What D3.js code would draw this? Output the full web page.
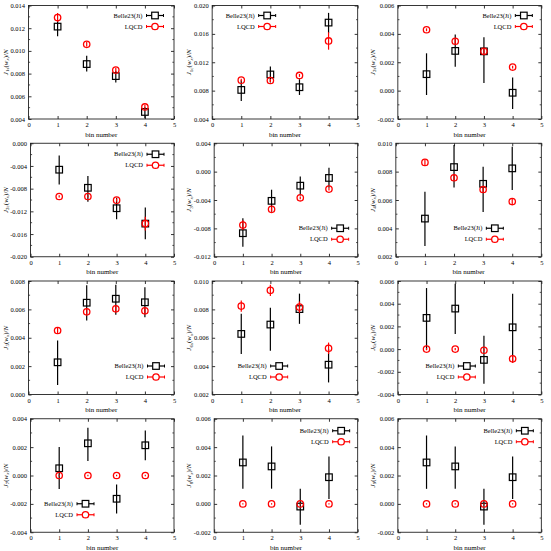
<!DOCTYPE html>
<html><head><meta charset="utf-8">
<script src="https://cdn.jsdelivr.net/npm/d3@7"></script>
<style>body{margin:0;background:#fff} svg{display:block}</style>
</head><body>
<svg id="c" width="551" height="551"></svg>
<script>
// ---------------- data ----------------
const bins = [1, 2, 3, 4];
const xTicks = [0, 1, 2, 3, 4, 5];
const seriesNames = ["Belle23(Ji)", "LQCD"];
const panelNames = ["1s", "1c", "2s", "2c", "3", "4", "5", "6s", "6c", "7", "8", "9"];
const yDomains = [
  [0.004, 0.014], [0.004, 0.020], [-0.002, 0.006],
  [-0.020, 0.000], [-0.012, 0.004], [0.002, 0.010],
  [0.000, 0.008], [0.002, 0.010], [-0.004, 0.006],
  [-0.004, 0.004], [-0.002, 0.006], [-0.002, 0.006]
];
const yTickSteps = [0.002, 0.004, 0.002, 0.004, 0.004, 0.002, 0.002, 0.002, 0.002, 0.002, 0.002, 0.002];

const belle = [
  [0.01214, 0.00884, 0.00778, 0.00462],
  [0.00810, 0.01028, 0.00848, 0.01759],
  [0.00116, 0.00280, 0.00277, -0.00015],
  [-0.00466, -0.00785, -0.01145, -0.01416],
  [-0.00868, -0.00412, -0.00198, -0.00089],
  [0.00469, 0.00832, 0.00714, 0.00823],
  [0.00227, 0.00647, 0.00675, 0.00650],
  [0.00627, 0.00693, 0.00802, 0.00410],
  [0.00275, 0.00357, -0.00095, 0.00192],
  [0.00051, 0.00227, -0.00164, 0.00213],
  [0.00292, 0.00264, -0.00019, 0.00188],
  [0.00292, 0.00264, -0.00019, 0.00188]
];
const belleUp = [
  [0.00056, 0.00074, 0.00047, 0.00041],
  [0.00137, 0.00113, 0.00113, 0.00137],
  [0.00147, 0.00116, 0.00100, 0.00107],
  [0.00248, 0.00206, 0.00183, 0.00283],
  [0.00209, 0.00157, 0.00128, 0.00142],
  [0.00189, 0.00156, 0.00120, 0.00153],
  [0.00153, 0.00123, 0.00099, 0.00106],
  [0.00142, 0.00118, 0.00109, 0.00111],
  [0.00263, 0.00219, 0.00213, 0.00296],
  [0.00150, 0.00110, 0.00101, 0.00105],
  [0.00190, 0.00141, 0.00125, 0.00146],
  [0.00190, 0.00141, 0.00125, 0.00146]
];
const belleDown = [
  [0.00086, 0.00065, 0.00056, 0.00056],
  [0.00156, 0.00113, 0.00109, 0.00146],
  [0.00147, 0.00112, 0.00223, 0.00114],
  [0.00260, 0.00248, 0.00195, 0.00277],
  [0.00190, 0.00152, 0.00138, 0.00140],
  [0.00194, 0.00144, 0.00198, 0.00153],
  [0.00160, 0.00125, 0.00113, 0.00106],
  [0.00142, 0.00184, 0.00104, 0.00125],
  [0.00281, 0.00225, 0.00210, 0.00311],
  [0.00147, 0.00124, 0.00103, 0.00105],
  [0.00186, 0.00157, 0.00129, 0.00153],
  [0.00186, 0.00157, 0.00129, 0.00153]
];
const lqcd = [
  [0.01294, 0.01058, 0.00831, 0.00506],
  [0.00948, 0.00943, 0.01014, 0.01500],
  [0.00429, 0.00348, 0.00277, 0.00166],
  [-0.00938, -0.00938, -0.01003, -0.01416],
  [-0.00754, -0.00531, -0.00369, -0.00246],
  [0.00865, 0.00757, 0.00674, 0.00589],
  [0.00451, 0.00583, 0.00604, 0.00590],
  [0.00823, 0.00934, 0.00816, 0.00526],
  [0.00000, 0.00000, -0.00010, -0.00086],
  [0.00000, 0.00000, 0.00000, 0.00000],
  [0.00000, 0.00000, 0.00000, 0.00000],
  [0.00000, 0.00000, 0.00000, 0.00000]
];
const lqcdErr = [
  [0.00040, 0.00020, 0.00020, 0.00020],
  [0.00020, 0.00020, 0.00020, 0.00123],
  [0.00010, 0.00020, 0.00020, 0.00010],
  [0.00020, 0.00020, 0.00030, 0.00120],
  [0.00070, 0.00030, 0.00020, 0.00020],
  [0.00020, 0.00020, 0.00020, 0.00020],
  [0.00020, 0.00020, 0.00020, 0.00020],
  [0.00040, 0.00040, 0.00040, 0.00040],
  [0.00010, 0.00010, 0.00010, 0.00035],
  [0.00005, 0.00005, 0.00005, 0.00005],
  [0.00005, 0.00005, 0.00005, 0.00005],
  [0.00005, 0.00005, 0.00005, 0.00005]
];

// ---------------- layout (styles / positions) ----------------
const W = 551, H = 551;
const legendPos = [[126.5,10],[55,10],[126,10],[125,11],[126,85],[99,85],[127.5,85],[67,85],[69,85],[55,85],[127,12],[127,12]];
const FONT = "'Liberation Serif', 'Times New Roman', serif";
const RED = "#ff0000";

const svg = d3.select("#c");
svg.append("rect").attr("width", W).attr("height", H).attr("fill", "#fff");

const fmt = d => d.toFixed(3);

panelNames.forEach((name, i) => {
  const row = Math.floor(i / 3), col = i % 3;
  const cellX = col * W / 3, cellY = row * H / 4;
  const dom = yDomains[i];
  const hasNeg = dom[0] < 0;
  const left = cellX + 28.5 + (hasNeg ? 2 : 0);
  const right = cellX + 174;
  const top = cellY + 5.5;
  const bottom = cellY + 119;

  const x = d3.scaleLinear().domain([0, 5]).range([left, right]);
  const y = d3.scaleLinear().domain(dom).range([bottom, top]);
  const step = yTickSteps[i];
  const k0 = Math.round(dom[0] / step), k1 = Math.round(dom[1] / step);
  const yTicks = d3.range(k0, k1 + 1).map(k => k * step);
  const yMinor = d3.range(k0, k1).map(k => (k + 0.5) * step);

  const g = svg.append("g");

  // axes
  const styleAxis = sel => {
    sel.select(".domain").remove();
    sel.selectAll("line").attr("stroke", "#000").attr("stroke-width", 0.8);
    sel.selectAll("text").attr("font-family", FONT).attr("font-size", 6.5).attr("fill", "#000");
  };
  g.append("g").attr("transform", `translate(${left},0)`)
    .call(d3.axisLeft(y).tickValues(yTicks).tickSize(-3).tickPadding(3.5).tickFormat(fmt))
    .call(styleAxis);
  g.append("g").attr("transform", `translate(${right},0)`)
    .call(d3.axisRight(y).tickValues(yTicks).tickSize(-3).tickFormat(""))
    .call(styleAxis);
  g.append("g").attr("transform", `translate(0,${bottom})`)
    .call(d3.axisBottom(x).tickValues(xTicks).tickSize(-3).tickPadding(3.5).tickFormat(d3.format("d")))
    .call(styleAxis);
  g.append("g").attr("transform", `translate(0,${top})`)
    .call(d3.axisTop(x).tickValues(xTicks).tickSize(-3).tickFormat(""))
    .call(styleAxis);
  // minor y ticks
  yMinor.forEach(v => {
    g.append("line").attr("x1", left).attr("x2", left + 1.6).attr("y1", y(v)).attr("y2", y(v))
      .attr("stroke", "#000").attr("stroke-width", 0.7);
    g.append("line").attr("x1", right).attr("x2", right - 1.6).attr("y1", y(v)).attr("y2", y(v))
      .attr("stroke", "#000").attr("stroke-width", 0.7);
  });

  // frame
  g.append("rect").attr("x", left).attr("y", top).attr("width", right - left).attr("height", bottom - top)
    .attr("fill", "none").attr("stroke", "#222").attr("stroke-width", 0.9);

  // x label
  g.append("text").attr("x", (left + right) / 2).attr("y", bottom + 17.5)
    .attr("text-anchor", "middle").attr("font-family", FONT).attr("font-size", 7)
    .text("bin number");

  // y label
  const yl = g.append("text")
    .attr("transform", `translate(${cellX + 7.5},${(top + bottom) / 2}) rotate(-90)`)
    .attr("text-anchor", "middle").attr("font-family", FONT).attr("font-size", 7);
  yl.append("tspan").attr("font-style", "italic").text("J");
  yl.append("tspan").attr("font-size", 5).attr("dy", 1.5).text(name);
  yl.append("tspan").attr("dy", -1.5).text("(");
  yl.append("tspan").attr("font-style", "italic").text("w");
  yl.append("tspan").attr("font-size", 5).attr("dy", 1.5).attr("font-style", "italic").text("x");
  yl.append("tspan").attr("dy", -1.5).text(")/");
  yl.append("tspan").attr("font-style", "italic").text("N");

  // Belle data
  const bd = bins.map((b, j) => ({b, v: belle[i][j], up: belleUp[i][j], dn: belleDown[i][j]}));
  const bg = g.append("g");
  bg.selectAll("line.err").data(bd).join("line")
    .attr("x1", d => x(d.b)).attr("x2", d => x(d.b))
    .attr("y1", d => y(d.v + d.up)).attr("y2", d => y(d.v - d.dn))
    .attr("stroke", "#000").attr("stroke-width", 1.2);
  bg.selectAll("rect.pt").data(bd).join("rect")
    .attr("x", d => x(d.b) - 3.3).attr("y", d => y(d.v) - 3.3)
    .attr("width", 6.6).attr("height", 6.6)
    .attr("fill", "none").attr("stroke", "#000").attr("stroke-width", 1.2);

  // LQCD data
  const ld = bins.map((b, j) => ({b, v: lqcd[i][j], e: lqcdErr[i][j]}));
  const lg = g.append("g");
  lg.selectAll("line.err").data(ld).join("line")
    .attr("x1", d => x(d.b)).attr("x2", d => x(d.b))
    .attr("y1", d => y(d.v + d.e)).attr("y2", d => y(d.v - d.e))
    .attr("stroke", RED).attr("stroke-width", 1.2);
  lg.selectAll("circle.pt").data(ld).join("circle")
    .attr("cx", d => x(d.b)).attr("cy", d => y(d.v)).attr("r", 3.2)
    .attr("fill", "none").attr("stroke", RED).attr("stroke-width", 1.3);

  // legend
  const [lx, ly] = legendPos[i];
  seriesNames.forEach((s, j) => {
    const mx = left + lx, my = top + ly + j * 11;
    const color = j === 0 ? "#000" : RED;
    g.append("text").attr("x", mx - 12.5).attr("y", my).attr("dy", "0.33em")
      .attr("text-anchor", "end").attr("font-family", FONT).attr("font-size", 6.5).text(s);
    g.append("line").attr("x1", mx - 8.5).attr("x2", mx + 8.5).attr("y1", my).attr("y2", my)
      .attr("stroke", color).attr("stroke-width", 1.2);
    [mx - 8.5, mx + 8.5].forEach(cx => g.append("line").attr("x1", cx).attr("x2", cx)
      .attr("y1", my - 1.5).attr("y2", my + 1.5).attr("stroke", color).attr("stroke-width", 1));
    if (j === 0) {
      g.append("rect").attr("x", mx - 3.3).attr("y", my - 3.3).attr("width", 6.6).attr("height", 6.6)
        .attr("fill", "#fff").attr("stroke", color).attr("stroke-width", 1.2);
    } else {
      g.append("circle").attr("cx", mx).attr("cy", my).attr("r", 3.2)
        .attr("fill", "#fff").attr("stroke", color).attr("stroke-width", 1.3);
    }
  });
});
</script>
</body></html>
